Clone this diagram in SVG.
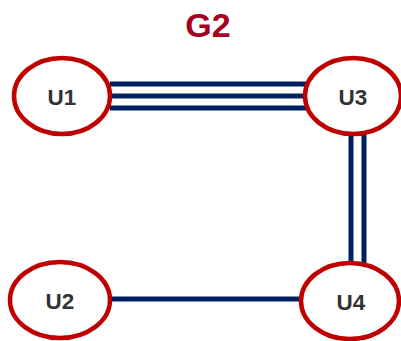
<svg xmlns="http://www.w3.org/2000/svg" width="401" height="341" viewBox="0 0 401 341">
  <style>
    .node ellipse { fill: #ffffff; stroke: #c00000; stroke-width: 4.5; }
    .node text { font-family: "Liberation Sans", Arial, sans-serif; font-weight: bold; font-size: 22.5px; fill: #333333; text-anchor: middle; dominant-baseline: central; }
    .edges line { stroke: #002060; stroke-width: 5; }
    .title { font-family: "Liberation Sans", Arial, sans-serif; font-weight: bold; font-size: 34px; fill: #a50021; text-anchor: middle; }
  </style>
  <rect width="401" height="341" fill="#ffffff"/>
  <text class="title" x="208" y="37">G2</text>
  <g class="edges">
    <!-- U1 - U3 triple -->
    <line x1="110" y1="84" x2="306" y2="84"/>
    <line x1="110" y1="96" x2="306" y2="96"/>
    <line x1="110" y1="108" x2="306" y2="108"/>
    <!-- U3 - U4 double -->
    <line x1="351" y1="132" x2="351" y2="264"/>
    <line x1="364" y1="132" x2="364" y2="264"/>
    <!-- U2 - U4 single -->
    <line x1="110" y1="299" x2="301" y2="299"/>
  </g>
  <g id="U1" class="node"><ellipse cx="62" cy="96" rx="48" ry="38"/><text x="62" y="97">U1</text></g>
  <g id="U3" class="node"><ellipse cx="353" cy="96" rx="48" ry="38"/><text x="353" y="97">U3</text></g>
  <g id="U2" class="node"><ellipse cx="60" cy="300" rx="50" ry="38"/><text x="60" y="301">U2</text></g>
  <g id="U4" class="node"><ellipse cx="350" cy="301" rx="49" ry="38"/><text x="351" y="302">U4</text></g>
</svg>
